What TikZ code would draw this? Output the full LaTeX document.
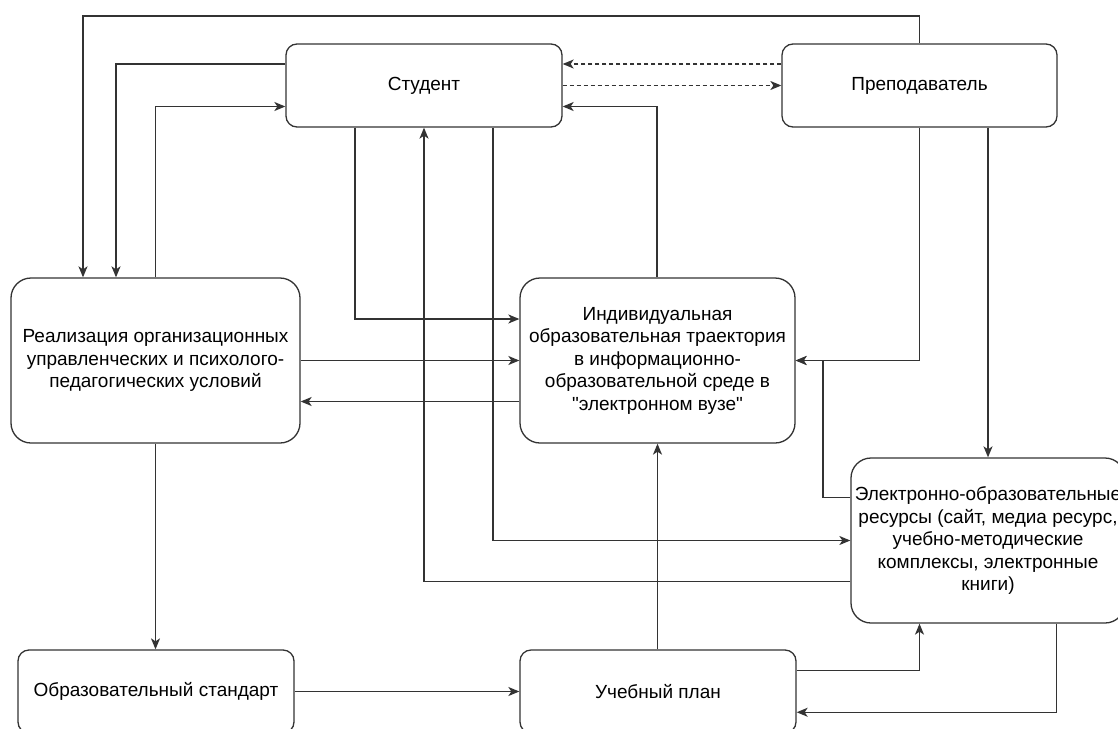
\documentclass[tikz,border=0pt]{standalone}
\usepackage{fontspec}
\setmainfont{Liberation Sans}[Ligatures=TeXOff]
\usetikzlibrary{arrows.meta}
\definecolor{linec}{HTML}{333333}
\begin{document}
\begin{tikzpicture}[x=1pt,y=-1pt,
  box/.style={draw=linec, line width=1.3pt, fill=white, align=center, inner sep=0pt,
    font=\fontsize{19}{22.5}\selectfont},
  tallbox/.style={box, rounded corners=20pt, minimum height=165pt},
  shortbox/.style={box, rounded corners=11pt, minimum height=83pt},
  arr/.style={draw=linec, line width=1.3pt, -{Stealth[length=11pt,width=9pt,inset=3pt]}},
  dash line/.style={dash pattern=on 4pt off 3pt}
]
\useasboundingbox (0,0) rectangle (1118,728);

\node[shortbox, minimum width=276pt] (stud) at (424,85.5) {Студент};
\node[shortbox, minimum width=275pt] (prep) at (919.5,85.5) {Преподаватель};
\node[tallbox, minimum width=289pt] (real) at (155.5,360.5) {Реализация организационных\\управленческих и психолого-\\педагогических условий};
\node[tallbox, minimum width=275pt] (ind) at (657.5,360.5) {Индивидуальная\\образовательная траектория\\в информационно-\\образовательной среде в\\"электронном вузе"};
\node[tallbox, minimum width=274pt] (eor) at (988,540.5) {Электронно-образовательные\\ресурсы (сайт, медиа ресурс,\\учебно-методические\\комплексы, электронные\\книги)};
\node[shortbox, minimum width=276pt] (std) at (156,691.5) {Образовательный стандарт};
\node[shortbox, minimum width=276pt] (plan) at (658,691.5) {Учебный план};

% top loops
\draw[arr] (prep.north) |- (83,16) -- ([xshift=-72.5pt]real.north);
\draw[arr] ([yshift=21.5pt]stud.west) -| ([xshift=-39.5pt]real.north);
\draw[arr] (real.north) |- ([yshift=-21pt]stud.west);
% dashed
\draw[arr, dash line] ([yshift=21.5pt]prep.west) -- ([yshift=21.5pt]stud.east);
\draw[arr, dash line] (stud.east) -- (prep.west);
% ind to student
\draw[arr] ([xshift=-0.5pt]ind.north) |- ([yshift=-21pt]stud.east);
% student down
\draw[arr] ([xshift=-69pt]stud.south) |- ([yshift=41.5pt]ind.west);
\draw[arr] ([xshift=69pt]stud.south) |- (eor.west);
\draw[arr] ([yshift=-41pt]eor.west) -| (stud.south);
% real <-> ind
\draw[arr] (real.east) -- (ind.west);
\draw[arr] ([yshift=-41pt]ind.west) -- ([yshift=-41pt]real.east);
% prep
\draw[arr] (prep.south) |- (ind.east);
\draw[arr] ([xshift=68.5pt]prep.south) -- (eor.north);
\draw[arr] ([yshift=43pt]eor.west) -| (823,360.5) -- (ind.east);
% bottom
\draw[arr] (real.south) -- (real.south |- std.north);
\draw[arr] (std.east) -- (plan.west);
\draw[arr] (ind.south |- plan.north) -- (ind.south);
\draw[arr] ([yshift=20.75pt]plan.east) -| ([xshift=-68.5pt]eor.south);
\draw[arr] ([xshift=68.5pt]eor.south) |- ([yshift=-20.75pt]plan.east);
\end{tikzpicture}
\end{document}
